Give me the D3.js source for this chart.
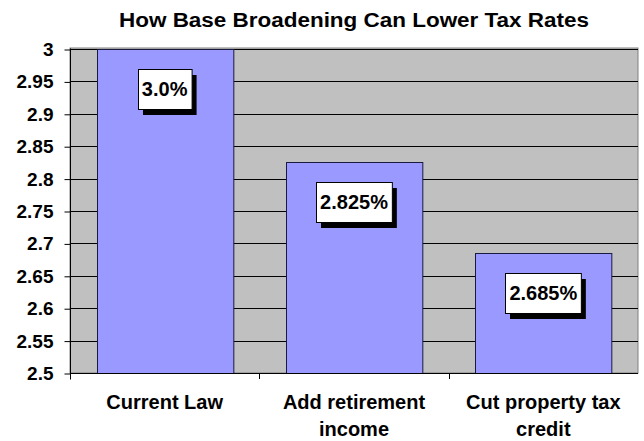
<!DOCTYPE html>
<html>
<head>
<meta charset="utf-8">
<script src="https://cdn.jsdelivr.net/npm/d3@7"></script>
<style>
  html, body { margin: 0; padding: 0; background: #ffffff; }
  svg { display: block; font-family: "Liberation Sans", Arial, Helvetica, sans-serif; }
</style>
</head>
<body>
<svg id="chart" width="644" height="441"></svg>
<script>
const title = "How Base Broadening Can Lower Tax Rates";
const categories = [["Current Law"], ["Add retirement", "income"], ["Cut property tax", "credit"]];
const values = [3.0, 2.825, 2.685];
const valueLabels = ["3.0%", "2.825%", "2.685%"];
const yTicks = [2.5, 2.55, 2.6, 2.65, 2.7, 2.75, 2.8, 2.85, 2.9, 2.95, 3];

const svg = d3.select("#chart");
const plot = { left: 70, right: 638, top: 49, bottom: 373 };

const x = d3.scaleBand()
  .domain(d3.range(values.length))
  .range([plot.left, plot.right])
  .paddingInner(0.28)
  .paddingOuter(0.14);

const y = d3.scaleLinear().domain([2.5, 3]).range([plot.bottom, plot.top]);

// Title
svg.append("text")
  .attr("x", (plot.left + plot.right) / 2)
  .attr("y", 27)
  .attr("text-anchor", "middle")
  .attr("font-size", 20)
  .attr("font-weight", "bold")
  .attr("fill", "#000")
  .attr("textLength", 470)
  .attr("lengthAdjust", "spacingAndGlyphs")
  .text(title);

// Plot background
svg.append("rect")
  .attr("x", plot.left).attr("y", plot.top - 1)
  .attr("width", plot.right - plot.left).attr("height", plot.bottom - plot.top + 1)
  .attr("fill", "#c0c0c0")
  .attr("stroke", "#808080").attr("stroke-width", 1);

// Gridlines
svg.append("g")
  .selectAll("line")
  .data(yTicks.slice(1))
  .join("line")
  .attr("x1", plot.left).attr("x2", plot.right)
  .attr("y1", d => Math.round(y(d)) + 0.5).attr("y2", d => Math.round(y(d)) + 0.5)
  .attr("stroke", "#000").attr("stroke-width", 1);

// Bars
svg.append("g")
  .selectAll("rect")
  .data(values)
  .join("rect")
  .attr("x", (d, i) => Math.round(x(i)) + 0.5)
  .attr("y", d => Math.round(y(d)) + 0.5)
  .attr("width", x.bandwidth())
  .attr("height", d => plot.bottom - Math.round(y(d)))
  .attr("fill", "#9999ff")
  .attr("stroke", "#1a1a40").attr("stroke-width", 1);

// Y axis
const yAxis = d3.axisLeft(y).tickValues(yTicks).tickSize(6).tickPadding(11)
  .tickFormat(d => d3.format("")(+d.toFixed(2)));
const gy = svg.append("g").attr("transform", `translate(${plot.left + 0.5},0.5)`).call(yAxis);
gy.select(".domain").attr("d", `M0,${plot.top - 1}V${plot.bottom + 6}`).attr("stroke", "#000");
gy.selectAll(".tick line").attr("stroke", "#000");
gy.selectAll(".tick text")
  .attr("font-size", 19).attr("font-weight", "bold").attr("fill", "#000")
  .attr("font-family", "'Liberation Sans', Arial, sans-serif");

// X axis baseline and tick marks at band boundaries
const step = x.step();
const boundaries = d3.range(values.length + 1).map(i => plot.left + i * step);
svg.append("line")
  .attr("x1", plot.left).attr("x2", plot.right)
  .attr("y1", plot.bottom + 0.5).attr("y2", plot.bottom + 0.5)
  .attr("stroke", "#000");
svg.append("g").selectAll("line")
  .data(boundaries.slice(1, -1))
  .join("line")
  .attr("x1", d => Math.round(d) + 0.5).attr("x2", d => Math.round(d) + 0.5)
  .attr("y1", plot.bottom).attr("y2", plot.bottom + 6)
  .attr("stroke", "#000");

// X category labels
svg.append("g").selectAll("text")
  .data(categories)
  .join("text")
  .attr("x", (d, i) => x(i) + x.bandwidth() / 2)
  .attr("y", 409)
  .attr("text-anchor", "middle")
  .attr("font-size", 20).attr("font-weight", "bold").attr("fill", "#000")
  .each(function(d) {
    const t = d3.select(this);
    d.forEach((line, k) => {
      t.append("tspan").attr("x", t.attr("x")).attr("dy", k === 0 ? 0 : 27).text(line);
    });
  });

// Value labels with shadow boxes
const lg = svg.append("g");
values.forEach((v, i) => {
  const cx = x(i) + x.bandwidth() / 2;
  const cy = y(v) + 40;
  const g = lg.append("g");
  const txt = g.append("text")
    .attr("x", cx).attr("y", cy + 7)
    .attr("text-anchor", "middle")
    .attr("font-size", 20).attr("font-weight", "bold").attr("fill", "#000")
    .text(valueLabels[i]);
  const w = txt.node().getComputedTextLength() + 8;
  const h = 40;
  g.insert("rect", "text")
    .attr("x", Math.round(cx - w / 2) + 5).attr("y", Math.round(cy - h / 2) + 6)
    .attr("width", w).attr("height", h)
    .attr("fill", "#000");
  g.insert("rect", "text")
    .attr("x", Math.round(cx - w / 2) + 0.5).attr("y", Math.round(cy - h / 2) + 0.5)
    .attr("width", w).attr("height", h)
    .attr("fill", "#fff").attr("stroke", "#000").attr("stroke-width", 1);
});
</script>
</body>
</html>
